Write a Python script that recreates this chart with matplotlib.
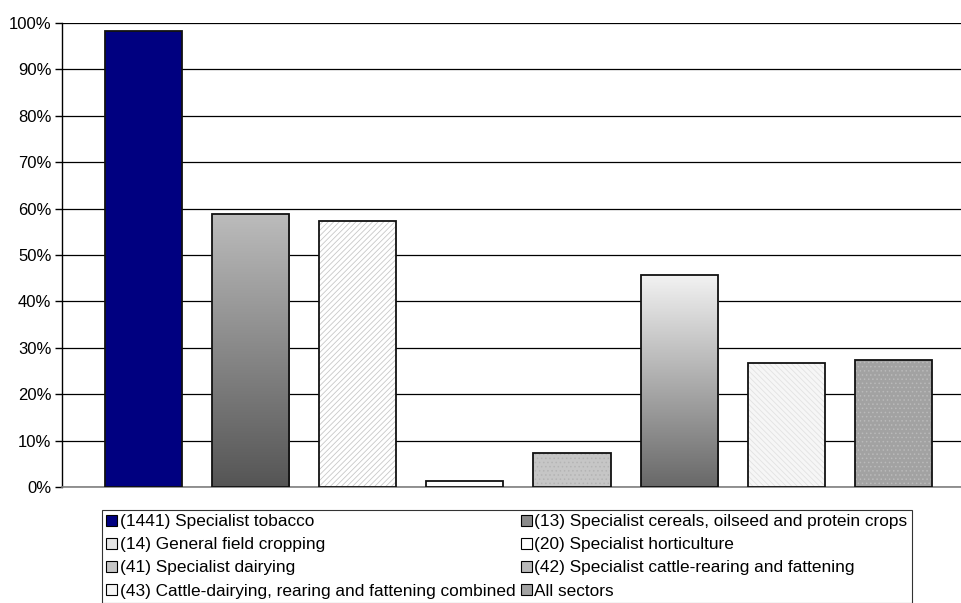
import numpy as np
import matplotlib
matplotlib.use("Agg")
import matplotlib.pyplot as plt
from matplotlib.patches import Patch
from matplotlib.colors import LinearSegmentedColormap
from matplotlib.ticker import FuncFormatter

plt.rcParams['font.family'] = ['Liberation Sans', 'DejaVu Sans']

# --- data (share of holdings, %) ---
labels = ["(1441) Specialist tobacco",
          "(13) Specialist cereals, oilseed and protein crops",
          "(14) General field cropping",
          "(20) Specialist horticulture",
          "(41) Specialist dairying",
          "(42) Specialist cattle-rearing and fattening",
          "(43) Cattle-dairying, rearing and fattening combined",
          "All sectors"]
values = [98.2, 58.9, 57.3, 1.4, 7.3, 45.6, 26.8, 27.3]
yticks = [0, 10, 20, 30, 40, 50, 60, 70, 80, 90, 100]

# fill style per series: (kind, base colour, extra)
styles = [("solid", "#000080", None),
          ("grad", "#bcbcbc", "#555555"),
          ("hatch", "#ffffff", ("#c8c8c8", "//////")),
          ("solid", "#ffffff", None),
          ("hatch", "#c6c6c6", ("#b4b4b4", "....")),
          ("grad", "#f2f2f2", "#686868"),
          ("hatch", "#f6f6f6", ("#e2e2e2", "\\\\\\\\\\\\")),
          ("hatch", "#a2a2a2", ("#bababa", "...."))]
legend_fc = ["#000080", "#8a8a8a", "#e6e6e6", "#ffffff",
             "#c6c6c6", "#b8b8b8", "#f4f4f4", "#a2a2a2"]

W = 0.72
fig = plt.figure(figsize=(9.62, 6.03), dpi=100)
ax = fig.add_axes([62.5 / 962, 1 - 487.3 / 603, 1 - 62.5 / 962, (487.3 - 22.7) / 603])

x = np.arange(len(values))
plt.rcParams['hatch.linewidth'] = 0.6
for xi, v, (kind, c, extra) in zip(x, values, styles):
    if kind == "solid":
        ax.bar(xi, v, W, color=c, edgecolor="none", zorder=3)
    elif kind == "hatch":
        hc, hp = extra
        ax.bar(xi, v, W, color=c, edgecolor=hc, hatch=hp, linewidth=0, zorder=3)
    else:
        b = ax.bar(xi, v, W, color="none", edgecolor="none", zorder=3)[0]
        cmap = LinearSegmentedColormap.from_list("g", [extra, c])
        grad = np.linspace(0, 1, 256).reshape(-1, 1)
        im = ax.imshow(grad, cmap=cmap, origin="lower", aspect="auto",
                       extent=[xi - W / 2, xi + W / 2, 0, v], zorder=3)
        im.set_clip_path(b)
    # outline
    ax.bar(xi, v, W, color="none", edgecolor="#111111", linewidth=1.3, zorder=4)

ax.set_xlim(-0.756, 7.64)
ax.set_ylim(0, 100)
ax.set_yticks(yticks)
ax.yaxis.set_major_formatter(FuncFormatter(lambda v, p: f"{v:.0f}%"))
ax.set_xticks([])
ax.grid(axis="y", color="#000000", linewidth=0.9, zorder=0)
ax.set_axisbelow(True)
for s in ("top", "right"):
    ax.spines[s].set_visible(False)
ax.spines["left"].set_color("#000000")
ax.spines["left"].set_linewidth(1.0)
ax.spines["bottom"].set_color("#808080")
ax.spines["bottom"].set_linewidth(1.2)
ax.tick_params(axis="y", length=5, width=1.0, labelsize=12, pad=3, colors="#000000")

# legend: row-wise order in two columns
handles = []
for i in range(len(labels)):
    handles.append(Patch(facecolor=legend_fc[i], edgecolor="#000000", linewidth=0.8,
                         label=labels[i]))
order = [0, 2, 4, 6, 1, 3, 5, 7]
leg = fig.legend([handles[i] for i in order], [labels[i] for i in order],
                 loc="upper left", bbox_to_anchor=(102 / 962, 1 - 510 / 603),
                 ncol=2, fontsize=12.4, frameon=True, fancybox=False,
                 edgecolor="#000000", borderpad=0.25, labelspacing=0.47,
                 handlelength=0.64, handleheight=0.64, handletextpad=0.15,
                 columnspacing=0.3, borderaxespad=0)
leg.get_frame().set_linewidth(0.8)

fig.savefig("out.png", dpi=100, facecolor="white")
